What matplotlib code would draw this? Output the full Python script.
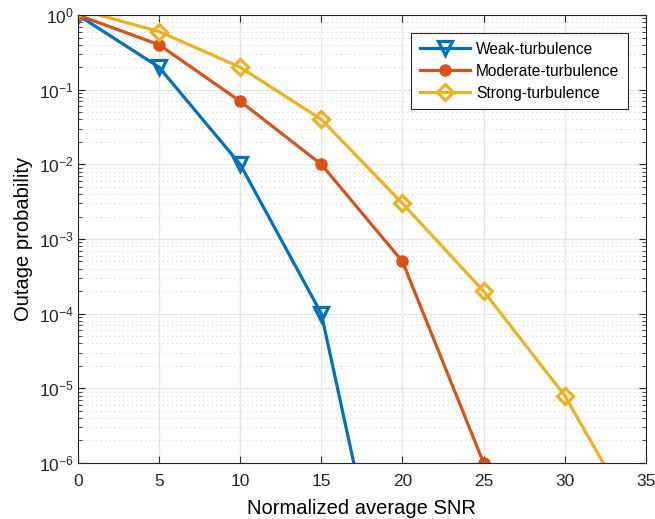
import numpy as np
import matplotlib.pyplot as plt
from matplotlib.ticker import LogLocator, NullFormatter

plt.rcParams['font.family'] = ['Liberation Sans', 'DejaVu Sans']
plt.rcParams['mathtext.fontset'] = 'custom'
plt.rcParams['mathtext.rm'] = 'Liberation Sans'
plt.rcParams['mathtext.it'] = 'Liberation Sans'
plt.rcParams['mathtext.default'] = 'regular'

snr = [0, 5, 10, 15, 20, 25, 30, 35]
weak = [1.0, 0.2, 0.01, 1e-4, 1e-9]
moderate = [1.0, 0.4, 0.07, 0.01, 5e-4, 1e-6, 1e-9]
strong = [1.2, 0.6, 0.2, 0.04, 3e-3, 2e-4, 8e-6, 1e-7]

fig = plt.figure(figsize=(6.55, 5.19), dpi=100)
ax = fig.add_axes([0.119, 0.108, 0.867, 0.863])

ax.semilogy(snr[:len(weak)], weak, color="#0072BD", lw=2.3, marker="v", ms=10,
            mfc="none", mew=2.3, label="Weak-turbulence")
ax.semilogy(snr[:len(moderate)], moderate, color="#D95319", lw=2.3, marker="o", ms=8,
            label="Moderate-turbulence")
ax.semilogy(snr[:len(strong)], strong, color="#EDB120", lw=2.3, marker="D", ms=8,
            mfc="none", mew=2.3, label="Strong-turbulence")

ax.set_xlim(0, 35)
ax.set_ylim(1e-6, 1)
ax.set_xticks(range(0, 36, 5))
ax.yaxis.set_major_locator(LogLocator(base=10, numticks=10))
ax.yaxis.set_minor_locator(LogLocator(base=10, subs=np.arange(2, 10), numticks=10))
ax.yaxis.set_minor_formatter(NullFormatter())

ax.grid(True, which="major", color="#e6e6e6", lw=1)
ax.grid(True, which="minor", axis="y", color="#d8d8d8", lw=0.8, ls=(0, (1, 3)))
ax.set_axisbelow(True)

ax.tick_params(which="both", direction="in", top=True, right=True, labelsize=12.5, colors="#262626")
ax.tick_params(axis="x", pad=8)
ax.tick_params(axis="y", pad=3)
ax.tick_params(which="major", length=5)
ax.tick_params(which="minor", length=3)
for s in ax.spines.values():
    s.set_color("#262626")

ax.set_xlabel("Normalized average SNR", fontsize=14.5, labelpad=7)
ax.set_ylabel("Outage probability", fontsize=14.5, labelpad=4)

leg = ax.legend(loc="upper right", bbox_to_anchor=(0.968, 0.96), borderaxespad=0,
                fontsize=11.2, fancybox=False, edgecolor="#262626", framealpha=1,
                handlelength=3.2, labelspacing=0.45, borderpad=0.55, handletextpad=0.4)
leg.get_frame().set_linewidth(0.8)

fig.savefig("out.png", dpi=100)
